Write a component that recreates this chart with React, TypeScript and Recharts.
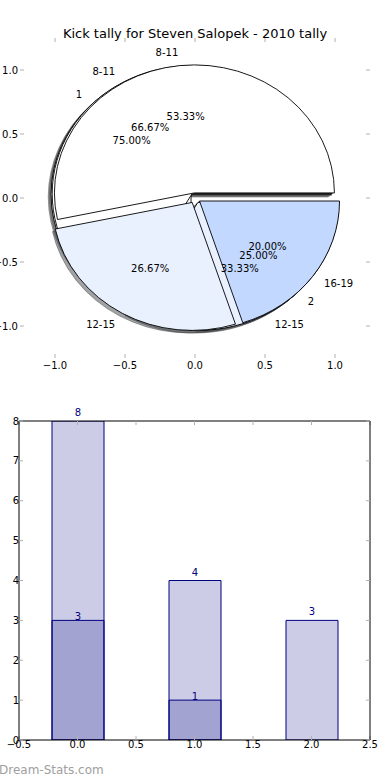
import React from "react";
import {
  PieChart,
  Pie,
  Cell,
  ComposedChart,
  BarChart,
  Bar,
  XAxis,
  YAxis,
  LabelList,
} from "recharts";

// pie data (three pies drawn over each other)
const ageGroups = ["8-11", "12-15", "16-19"];
const kicksByAge = [8, 4, 3];
const gameGroups = ["8-11", "12-15"];
const kicksByGame = [8, 4];
const roundGroups = ["1", "2"];
const kicksByRound = [3, 1];

// bar data
const barPositions = [0, 1, 2];
const totalCounts = [8, 4, 3];
const innerCounts = [3, 1, null];

const pieTicks = [-1, -0.5, 0, 0.5, 1];
const barXTicks = [-0.5, 0, 0.5, 1, 1.5, 2, 2.5];
const barYTicks = [0, 1, 2, 3, 4, 5, 6, 7, 8];

const FONT = "'DejaVu Sans', sans-serif";
const CX = 195;
const CY = 198;
const RY = 128;
const RX = 140;
const K = RX / RY;
const EXPLODE = 0.04;
const SHADOW_DX = -0.02 * RX;
const SHADOW_DY = 0.02 * RY;
const sliceColors = ["#ffffff", "#eaf1fe", "#c3d8ff"];
const BAR_BLUE = "#000080";

const toRows = (names: string[], values: number[]) =>
  names.map((name, i) => ({ name, value: values[i] }));

const pies = [
  { id: "round", rows: toRows(roundGroups, kicksByRound) },
  { id: "game", rows: toRows(gameGroups, kicksByGame) },
  { id: "age", rows: toRows(ageGroups, kicksByAge) },
];

const RAD = Math.PI / 180;

const arcPath = (cx: number, cy: number, r: number, a0: number, a1: number) => {
  const rx = r * K;
  const x0 = cx + rx * Math.cos(a0 * RAD);
  const y0 = cy - r * Math.sin(a0 * RAD);
  const x1 = cx + rx * Math.cos(a1 * RAD);
  const y1 = cy - r * Math.sin(a1 * RAD);
  const large = Math.abs(a1 - a0) > 180 ? 1 : 0;
  return `M${cx},${cy} L${x0},${y0} A${rx},${r} 0 ${large} 0 ${x1},${y1} Z`;
};

const shift = (p: any) => {
  const mid = p.midAngle ?? (p.startAngle + p.endAngle) / 2;
  return {
    mid,
    x: p.cx + EXPLODE * p.outerRadius * K * Math.cos(mid * RAD),
    y: p.cy - EXPLODE * p.outerRadius * Math.sin(mid * RAD),
  };
};

const darken = (hex: string) => {
  const n = parseInt(hex.slice(1), 16);
  const r = Math.round(((n >> 16) & 255) * 0.3);
  const g = Math.round(((n >> 8) & 255) * 0.3);
  const b = Math.round((n & 255) * 0.3);
  return `rgb(${r},${g},${b})`;
};

const Wedge = (p: any) => {
  const c = shift(p);
  return (
    <path
      d={arcPath(c.x, c.y, p.outerRadius, p.startAngle, p.endAngle)}
      fill={p.fill}
      stroke="#000"
      strokeWidth={0.9}
      strokeLinejoin="round"
    />
  );
};

const ShadowWedge = (p: any) => {
  const c = shift(p);
  const col = darken(p.fill || "#ffffff");
  return (
    <path
      d={arcPath(c.x + SHADOW_DX, c.y + SHADOW_DY, p.outerRadius, p.startAngle, p.endAngle)}
      fill={col}
      fillOpacity={0.5}
      stroke={col}
      strokeOpacity={0.5}
    />
  );
};

const NoShape = () => <g />;

const sliceLabel = (p: any) => {
  const c = shift(p);
  const cos = Math.cos(c.mid * RAD);
  const sin = Math.sin(c.mid * RAD);
  const r = p.outerRadius;
  const name = p.name ?? p.payload?.name;
  return (
    <g>
      <text
        x={c.x + 1.1 * r * K * cos}
        y={c.y - 1.1 * r * sin}
        textAnchor={cos > 0 ? "start" : "end"}
        dominantBaseline="central"
        fontSize={10}
        fontFamily={FONT}
        fill="#000"
      >
        {name}
      </text>
      <text
        x={c.x + 0.6 * r * K * cos}
        y={c.y - 0.6 * r * sin}
        textAnchor="middle"
        dominantBaseline="central"
        fontSize={10}
        fontFamily={FONT}
        fill="#000"
      >
        {(p.percent * 100).toFixed(2)}%
      </text>
    </g>
  );
};

const fmt1 = (v: number) => v.toFixed(1).replace("-", "\u2212");
const fmtInt = (v: number) => String(v);
const tickFont = { fontSize: 10, fill: "#000", fontFamily: FONT };
const grayTick = { stroke: "#b0b0b0" };

export default function App() {
  const barRows = barPositions.map((x, i) => ({
    x,
    total: totalCounts[i],
    inner: innerCounts[i],
  }));
  const pieAxisRows = pieTicks.map((v) => ({ v }));

  return (
    <div
      style={{
        position: "absolute",
        left: 0,
        top: 0,
        width: 390,
        height: 780,
        background: "#fff",
        fontFamily: FONT,
        overflow: "hidden",
      }}
    >
      <div
        style={{
          position: "absolute",
          top: 26,
          left: 0,
          width: 390,
          textAlign: "center",
          fontSize: 13,
          lineHeight: "16px",
          color: "#000",
        }}
      >
        Kick tally for Steven Salopek - 2010 tally
      </div>

      <div style={{ position: "absolute", left: 0, top: 0 }}>
        <ComposedChart
          width={390}
          height={390}
          data={pieAxisRows}
          margin={{ top: 37, right: 19, bottom: 0, left: 0 }}
        >
          <XAxis
            dataKey="v"
            type="number"
            domain={[-1.25, 1.25]}
            ticks={pieTicks}
            allowDataOverflow
            interval={0}
            height={32}
            axisLine={false}
            tickLine={grayTick}
            tickSize={-4}
            tickMargin={8}
            tick={tickFont}
            tickFormatter={fmt1}
          />
          <XAxis
            xAxisId="t"
            dataKey="v"
            type="number"
            orientation="top"
            domain={[-1.25, 1.25]}
            ticks={pieTicks}
            allowDataOverflow
            interval={0}
            height={1}
            axisLine={false}
            tickLine={grayTick}
            tickSize={-4}
            tick={NoShape}
          />
          <YAxis
            dataKey="v"
            type="number"
            domain={[-1.25, 1.25]}
            ticks={pieTicks}
            allowDataOverflow
            interval={0}
            width={20}
            axisLine={false}
            tickLine={grayTick}
            tickSize={-4}
            tickMargin={6}
            tick={tickFont}
            tickFormatter={fmt1}
          />
          <YAxis
            yAxisId="r"
            dataKey="v"
            type="number"
            orientation="right"
            domain={[-1.25, 1.25]}
            ticks={pieTicks}
            allowDataOverflow
            interval={0}
            width={1}
            axisLine={false}
            tickLine={grayTick}
            tickSize={-4}
            tick={NoShape}
          />
        </ComposedChart>
      </div>

      <div style={{ position: "absolute", left: 0, top: 0 }}>
        <PieChart width={390} height={390} margin={{ top: 0, right: 0, bottom: 0, left: 0 }}>
          {pies.map((pie) => (
            <Pie
              key={"s" + pie.id}
              data={pie.rows}
              dataKey="value"
              nameKey="name"
              cx={CX}
              cy={CY}
              outerRadius={RY}
              startAngle={0}
              endAngle={360}
              shape={ShadowWedge}
              inactiveShape={ShadowWedge}
              activeShape={ShadowWedge}
              label={false}
              labelLine={false}
              isAnimationActive={false}
            >
              {pie.rows.map((r, i) => (
                <Cell key={r.name + i} fill={sliceColors[i]} />
              ))}
            </Pie>
          ))}
          {pies.map((pie) => (
            <Pie
              key={"w" + pie.id}
              data={pie.rows}
              dataKey="value"
              nameKey="name"
              cx={CX}
              cy={CY}
              outerRadius={RY}
              startAngle={0}
              endAngle={360}
              shape={Wedge}
              inactiveShape={Wedge}
              activeShape={Wedge}
              label={false}
              labelLine={false}
              isAnimationActive={false}
            >
              {pie.rows.map((r, i) => (
                <Cell key={r.name + i} fill={sliceColors[i]} />
              ))}
            </Pie>
          ))}
          {pies.map((pie) => (
            <Pie
              key={"l" + pie.id}
              data={pie.rows}
              dataKey="value"
              nameKey="name"
              cx={CX}
              cy={CY}
              outerRadius={RY}
              startAngle={0}
              endAngle={360}
              shape={NoShape}
              inactiveShape={NoShape}
              activeShape={NoShape}
              label={sliceLabel}
              labelLine={false}
              isAnimationActive={false}
            />
          ))}
        </PieChart>
      </div>

      <div style={{ position: "absolute", left: 0, top: 400 }}>
        <BarChart
          width={390}
          height={380}
          data={barRows}
          margin={{ top: 20, right: 19, bottom: 20, left: 0 }}
          barGap={-52}
        >
          <XAxis
            dataKey="x"
            type="number"
            domain={[-0.5, 2.5]}
            ticks={barXTicks}
            allowDataOverflow
            interval={0}
            height={20}
            axisLine={{ stroke: "#000" }}
            tickLine={grayTick}
            tickSize={-4}
            tickMargin={5}
            tick={tickFont}
            tickFormatter={fmt1}
          />
          <XAxis
            xAxisId="top"
            dataKey="x"
            type="number"
            orientation="top"
            domain={[-0.5, 2.5]}
            ticks={barXTicks}
            allowDataOverflow
            interval={0}
            height={1}
            axisLine={{ stroke: "#000" }}
            tickLine={grayTick}
            tickSize={-4}
            tick={NoShape}
          />
          <YAxis
            type="number"
            domain={[0, 8]}
            ticks={barYTicks}
            allowDataOverflow
            interval={0}
            width={19}
            axisLine={{ stroke: "#000" }}
            tickLine={grayTick}
            tickSize={-4}
            tickMargin={4}
            tick={tickFont}
            tickFormatter={fmtInt}
          />
          <YAxis
            yAxisId="right"
            type="number"
            orientation="right"
            domain={[0, 8]}
            ticks={barYTicks}
            allowDataOverflow
            interval={0}
            width={1}
            axisLine={{ stroke: "#000" }}
            tickLine={grayTick}
            tickSize={-4}
            tick={NoShape}
          />
          <Bar
            dataKey="total"
            barSize={52}
            fill={BAR_BLUE}
            fillOpacity={0.2}
            stroke={BAR_BLUE}
            strokeWidth={1}
            isAnimationActive={false}
          >
            <LabelList
              dataKey="total"
              position="top"
              offset={5}
              fill={BAR_BLUE}
              fontSize={10}
              fontFamily={FONT}
            />
          </Bar>
          <Bar
            dataKey="inner"
            barSize={52}
            fill={BAR_BLUE}
            fillOpacity={0.2}
            stroke={BAR_BLUE}
            strokeWidth={1}
            isAnimationActive={false}
          >
            <LabelList
              dataKey="inner"
              position="top"
              offset={0}
              fill={BAR_BLUE}
              fontSize={10}
              fontFamily={FONT}
            />
          </Bar>
        </BarChart>
      </div>

      <div
        style={{
          position: "absolute",
          left: -1,
          top: 762,
          fontSize: 12,
          lineHeight: "16px",
          color: "#a0a0a0",
        }}
      >
        Dream-Stats.com
      </div>
    </div>
  );
}
